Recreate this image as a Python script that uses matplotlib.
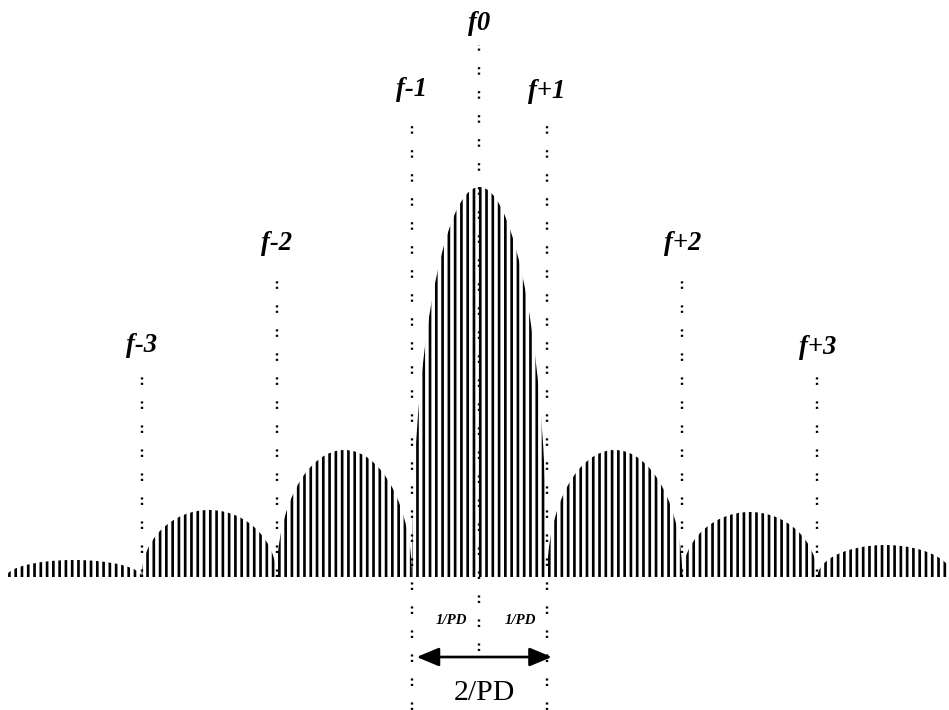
import matplotlib
matplotlib.use("Agg")
import matplotlib.pyplot as plt
from matplotlib.patches import Ellipse, Rectangle

# ---- data (x in units of 1/PD, centred on f0; y in pixels above baseline) ----
lobe_centers = [-6, -4, -2, 0, 2, 4, 6]
lobe_halfwidths = [1, 1, 1, 1, 1, 1, 1]
lobe_peaks = [17, 67, 127, 390, 127, 65, 32]

marker_labels = ['f-3', 'f-2', 'f-1', 'f0', 'f+1', 'f+2', 'f+3']
marker_pos = [-5, -3, -1, 0, 1, 3, 5]
label_y = [232, 334, 487, 554, 485, 334, 229]
line_top = [215, 305, 464, 532, 460, 305, 212]
line_bottom = [0, 0, -133, -74, -133, 0, 0]

small_labels = ['1/PD', '1/PD']
small_label_x = [-0.42, 0.6]
small_label_y = -43
span_label = '2/PD'

plt.rcParams['hatch.linewidth'] = 1.7
plt.rcParams['hatch.color'] = 'black'

dpi = 113
fig = plt.figure(figsize=(949 / dpi, 710 / dpi), dpi=dpi)
ax = fig.add_axes([0, 0, 1, 1])
ax.set_xlim((0 - 479.5) / 67.6, (949 - 479.5) / 67.6)
ax.set_ylim(-133, 577)
ax.axis('off')

clip = Rectangle((-20, 0), 40, 1000, transform=ax.transData)
for c, hw, pk in zip(lobe_centers, lobe_halfwidths, lobe_peaks):
    e = Ellipse((c, 0), 2 * hw, 2 * pk, facecolor='none', edgecolor='black',
                linewidth=0, hatch='|||')
    ax.add_patch(e)
    e.set_clip_path(clip)

dots = (0, (0.9, 1.4, 0.9, 7.0))
for lab, xp, ly, top, bot in zip(marker_labels, marker_pos, label_y, line_top, line_bottom):
    ax.plot([xp, xp], [bot, top], color='black', lw=1.5, linestyle=dots)
    ax.text(xp, ly, lab, ha='center', va='center', fontsize=17,
            family='Liberation Serif', fontweight='bold', fontstyle='italic')

for lab, xp in zip(small_labels, small_label_x):
    ax.text(xp, small_label_y, lab, ha='center', va='center', fontsize=9.5,
            family='Liberation Serif', fontweight='bold', fontstyle='italic')

ax.annotate('', xy=(1.07, -80), xytext=(-0.93, -80),
            arrowprops=dict(arrowstyle='<|-|>,head_length=1.2,head_width=0.5',
                            color='black', lw=1.7, shrinkA=0, shrinkB=0))
ax.text(0.08, -116, span_label, ha='center', va='center', fontsize=19,
        family='Liberation Serif')

fig.savefig('out.png', dpi=dpi)
